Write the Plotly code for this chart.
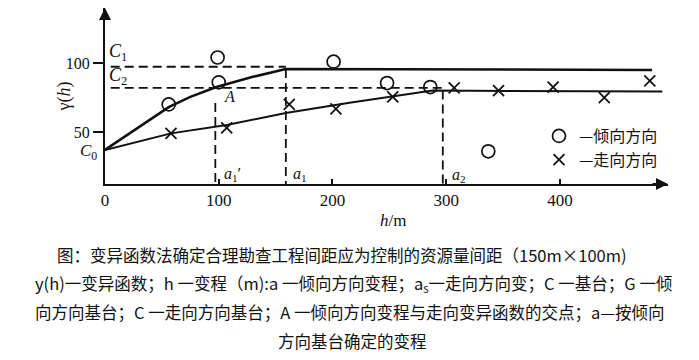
import plotly.graph_objects as go

# ---- data ----
h_dip = [56, 99, 100, 201, 248, 286, 337]
g_dip = [70, 104, 86, 101, 85.5, 82.6, 36]
h_strike = [58, 107, 162, 203, 253, 307, 346, 394, 439, 479]
g_strike = [49, 53, 70, 66.7, 75.4, 82, 80, 82.6, 75, 87]

h_dip_model = [0, 20, 40, 56, 75, 98, 130, 159, 481]
g_dip_model = [37, 48, 59, 68, 75.5, 82.6, 90, 95.7, 95]
h_strike_model = [0, 58, 107, 159, 215, 253, 288, 490]
g_strike_model = [37, 49, 55, 63.8, 71.2, 75.6, 80, 79.3]

C0, C1, C2 = 37, 97.3, 82
a1p, a1, a2 = 97, 159, 297

x_ticks = [0, 100, 200, 300, 400]
y_ticks = [50, 100]

caption = [
    "图：变异函数法确定合理勘查工程间距应为控制的资源量间距（150m×100m)",
    "y(h)一变异函数；h 一变程（m):a 一倾向方向变程；a<sub>s</sub>一走向方向变；C 一基台；G 一倾",
    "向方向基台；C 一走向方向基台；A 一倾向方向变程与走向变异函数的交点；a—按倾向",
    "方向基台确定的变程",
]

# page body has an 8px margin: the figure starts at screen (8, 8)
OFF = 8
W, H = 699 - OFF, 360 - OFF
L, R, T, B = 97, 31, 0, 176
XMAX = 495
YMIN, YMAX = 12.3, 139.9
PW, PH = W - L - R, H - T - B


def px(xp):
    return (xp - OFF - L) / PW


def py(yp):
    return (H - B - (yp - OFF)) / PH


serif = "Liberation Serif"
cjk = "Noto Sans CJK SC"
ink = "#111111"
Y0 = YMIN

fig = go.Figure()

# reference dashed lines
dash = dict(color=ink, width=1.8, dash="9px,5px")
fig.add_trace(go.Scatter(x=[5, a1], y=[C1, C1], mode="lines", line=dash, showlegend=False))
fig.add_trace(go.Scatter(x=[5, a2], y=[C2, C2], mode="lines", line=dash, showlegend=False))
fig.add_trace(go.Scatter(x=[a1p, a1p], y=[71, Y0], mode="lines", line=dash, showlegend=False))
fig.add_trace(go.Scatter(x=[a1, a1], y=[g_dip_model[7], Y0], mode="lines", line=dash, showlegend=False))
fig.add_trace(go.Scatter(x=[a2, a2], y=[80, Y0], mode="lines", line=dash, showlegend=False))

# model lines
fig.add_trace(go.Scatter(x=h_dip_model, y=g_dip_model, mode="lines",
                         line=dict(color=ink, width=2.6), showlegend=False))
fig.add_trace(go.Scatter(x=h_strike_model, y=g_strike_model, mode="lines",
                         line=dict(color=ink, width=2), showlegend=False))

# experimental points
fig.add_trace(go.Scatter(x=h_dip, y=g_dip, mode="markers", name="—倾向方向",
                         marker=dict(symbol="circle-open", size=13, color=ink,
                                     line=dict(width=1.7, color=ink))))
fig.add_trace(go.Scatter(x=h_strike, y=g_strike, mode="markers", name="—走向方向",
                         marker=dict(symbol="x-thin-open", size=11, color=ink,
                                     line=dict(width=1.8, color=ink))))

ann = []
# axis arrows
ann.append(dict(x=0, y=YMAX, ax=0, ay=YMAX - 8, xref="x", yref="y", axref="x", ayref="y",
                text="", showarrow=True, arrowhead=2, arrowsize=1.2, arrowwidth=2,
                arrowcolor=ink))
ann.append(dict(x=XMAX, y=Y0, ax=XMAX - 15, ay=Y0, xref="x", yref="y", axref="x", ayref="y",
                text="", showarrow=True, arrowhead=2, arrowsize=1.2, arrowwidth=2,
                arrowcolor=ink))


def label(text, xp, yp, size=16, font=serif, xanchor="center"):
    ann.append(dict(x=px(xp), y=py(yp), xref="paper", yref="paper", text=text,
                    showarrow=False, xanchor=xanchor, yanchor="middle",
                    font=dict(family=font, size=size, color=ink)))


label("<i>C</i><sub>1</sub>", 118, 52, 18)
label("<i>C</i><sub>2</sub>", 118, 76, 18)
label("<i>C</i><sub>0</sub>", 88, 152, 17)
label("<i>A</i>", 229, 97, 16)
label("<i>a</i><sub>1</sub>′", 232, 174, 16)
label("<i>a</i><sub>1</sub>", 300, 174, 16)
label("<i>a</i><sub>2</sub>", 459, 175, 16)
label("<i>h</i>/m", 393, 220, 17)
ann.append(dict(x=px(52), y=py(97), xref="paper", yref="paper", text="γ(<i>h</i>)",
                showarrow=False, textangle=-90, font=dict(family=serif, size=18, color=ink)))

label(caption[0], 342, 255, 16.5, cjk)
label(caption[1], 33, 283, 16.5, cjk, "left")
label(caption[2], 33, 312, 16.5, cjk, "left")
label(caption[3], 352, 341, 16.5, cjk)

fig.update_layout(
    width=W, height=H, autosize=False,
    margin=dict(l=L, r=R, t=T, b=B, pad=0),
    paper_bgcolor="white", plot_bgcolor="white",
    annotations=ann,
    legend=dict(x=px(539), y=py(119), xanchor="left", yanchor="top",
                font=dict(family=cjk, size=16, color=ink), bgcolor="rgba(0,0,0,0)",
                itemwidth=30, tracegroupgap=0),
    xaxis=dict(range=[0, XMAX], showgrid=False, zeroline=False, showline=True,
               linecolor=ink, linewidth=2, tickvals=x_ticks, ticks="inside", ticklen=5,
               tickwidth=1.5, tickcolor=ink,
               tickfont=dict(family=serif, size=17, color=ink)),
    yaxis=dict(range=[YMIN, YMAX], showgrid=False, zeroline=False, showline=True,
               linecolor=ink, linewidth=2, tickvals=y_ticks, ticks="outside", ticklen=10,
               tickwidth=1.5, tickcolor=ink,
               tickfont=dict(family=serif, size=16, color=ink)),
)

fig.write_html("out.html")
